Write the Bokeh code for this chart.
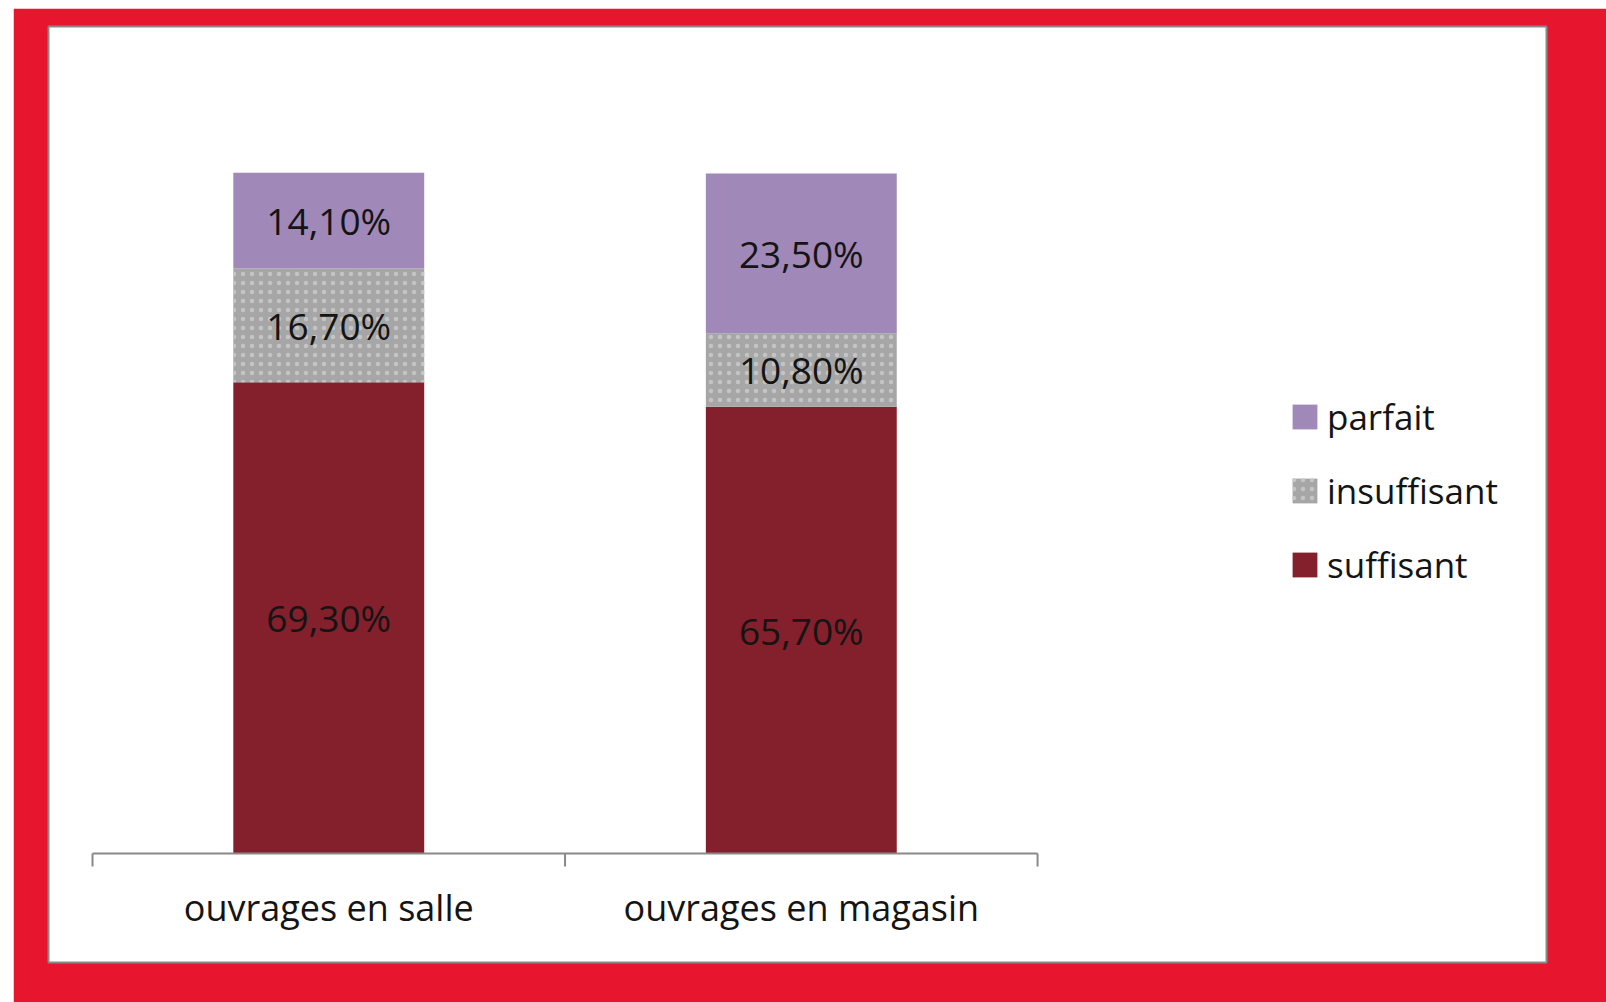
from bokeh.plotting import figure
from bokeh.models import ColumnDataSource, Range1d, Legend, LegendItem
from bokeh.core.properties import value
from bokeh.embed import file_html
from bokeh.resources import INLINE

# ---- data ----
categories = ["ouvrages en salle", "ouvrages en magasin"]
series = ["suffisant", "insuffisant", "parfait"]
suffisant = [69.3, 65.7]
insuffisant = [16.7, 10.8]
parfait = [14.1, 23.5]

# ---- style ----
colors = ["#841F2C", "#A6A6A6", "#A088B8"]
hatches = [" ", "dot", " "]
FONT = value("Open Sans")
RED = "#E8152F"
GRAY = "#898989"

xs = [i + 0.5 for i in range(len(categories))]
src = ColumnDataSource(dict(x=xs, cat=categories, suffisant=suffisant,
                            insuffisant=insuffisant, parfait=parfait))

p = figure(frame_width=1498, frame_height=936, output_backend="svg",
           toolbar_location=None, tools="",
           x_range=Range1d(-0.0931, 3.077), y_range=Range1d(-16.03, 121.6),
           x_axis_location=None, y_axis_location=None,
           min_border_left=35, min_border_right=60, min_border_top=18,
           min_border_bottom=40)
p.margin = (8, 0, 0, 13)
p.border_fill_color = RED
p.background_fill_color = "white"
p.outline_line_color = GRAY
p.outline_line_width = 2
p.xgrid.visible = False
p.ygrid.visible = False

rs = p.vbar_stack(series, x="x", width=0.404, source=src,
                  fill_color=colors, line_color=None,
                  hatch_pattern=hatches, hatch_color="#C4C4C4",
                  hatch_scale=9, hatch_weight=1)

# data labels
lab_x, lab_y, lab_t = [], [], []
for i, x in enumerate(xs):
    base = 0.0
    for s in series:
        v = src.data[s][i]
        lab_x.append(x)
        lab_y.append(base + v / 2)
        lab_t.append(f"{v:.2f}".replace(".", ",") + "%")
        base += v
p.text(x=lab_x, y=lab_y, text=lab_t, text_align="center",
       text_baseline="middle", text_font=FONT, text_font_size="37px",
       text_color="#141414")

# category axis (drawn inside the white panel)
n = len(categories)
p.segment(x0=[0], y0=[0], x1=[n], y1=[0], line_color=GRAY, line_width=2)
p.segment(x0=list(range(n + 1)), y0=[0] * (n + 1), x1=list(range(n + 1)),
          y1=[-1.9] * (n + 1), line_color=GRAY, line_width=2)
p.text(x=xs, y=[-8.0] * n, text=categories, text_align="center",
       text_baseline="middle", text_font=FONT, text_font_size="36px",
       text_color="#141414")

items = [LegendItem(label=s, renderers=[r]) for s, r in reversed(list(zip(series, rs)))]
legend = Legend(items=items, location=(1241, 374), glyph_width=31, glyph_height=31,
                label_text_font="Open Sans", label_text_font_size="35px",
                label_text_color="#141414", label_standoff=7, spacing=27,
                padding=0, margin=0, border_line_color=None,
                background_fill_alpha=0)
p.add_layout(legend)

open("out.html", "w").write(file_html(p, INLINE))
